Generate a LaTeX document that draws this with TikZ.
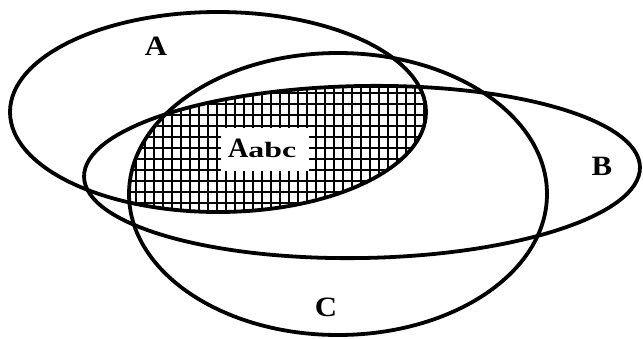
\documentclass[tikz,border=0pt]{standalone}
\usepackage{fontspec}
\setmainfont{Liberation Serif}
\tikzset{
  venn/.style={line width=3.8pt, draw=black},
  hatchline/.style={line width=2pt, draw=black},
  setlabel/.style={inner sep=0pt, font=\bfseries\fontsize{28}{32}\selectfont},
}
\newcommand{\ellA}{(218,112) ellipse (208 and 100)}
\newcommand{\ellB}{[rotate around={1:(362,172)}] (362,172) ellipse (278 and 86)}
\newcommand{\ellC}{(338,194) ellipse (209 and 141)}
\begin{document}
\begin{tikzpicture}[x=1pt,y=-1pt]
\useasboundingbox (0,0) rectangle (643,338);
\fill[white] (0,0) rectangle (643,338);
% hatched intersection
\begin{scope}
  \clip \ellA;
  \clip \ellB;
  \clip \ellC;
  \foreach \i in {0,...,34} {
    \draw[hatchline] (127+9*\i,80) -- (127+9*\i,230);
  }
  \foreach \j in {0,...,13} {
    \draw[hatchline] (120,93+11*\j) -- (440,93+11*\j);
  }
  \fill[white] (221,128) rectangle (309,171);
\end{scope}
% set outlines
\draw[venn] \ellA;
\draw[venn] \ellB;
\draw[venn] \ellC;
% labels
\node[setlabel] (labA) at (156,46) {\scalebox{1.1}[1]{A}};
\node[setlabel] (labB) at (602,166) {\scalebox{1.1}[1]{B}};
\node[setlabel] (labC) at (326,307) {\scalebox{1.1}[1]{C}};
\node[setlabel, anchor=base west] (labAabc) at (228,157) {\scalebox{1.0}[1]{A}\fontsize{22}{26}\selectfont\scalebox{1.45}[1]{abc}};
\end{tikzpicture}
\end{document}
